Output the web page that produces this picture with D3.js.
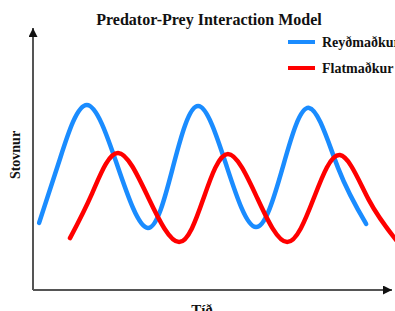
<!DOCTYPE html>
<html><head><meta charset="utf-8">
<script src="https://cdn.jsdelivr.net/npm/d3@7"></script>
<style>body{margin:0;background:#fff}svg{display:block}</style>
</head><body>
<script>
// Data (time, population)
const title = "Predator-Prey Interaction Model";
const xLabel = "Tíð";
const yLabel = "Stovnur";
const seriesNames = ["Reyðmaðkur", "Flatmaðkur"];
const preyT   = [0.17, 0.75, 1.50, 2.35, 3.20, 3.90, 4.60, 5.40, 6.21, 6.95, 7.69, 8.50, 9.28];
const preyV   = [2.56, 5.00, 7.06, 4.75, 2.37, 4.70, 7.02, 4.70, 2.40, 4.65, 6.95, 4.65, 2.52];
const predT   = [1.03, 1.65, 2.37, 3.22, 4.07, 4.75, 5.43, 6.25, 7.08, 7.82, 8.55, 9.35, 10.15];
const predV   = [1.98, 3.70, 5.23, 3.50, 1.83, 3.50, 5.19, 3.50, 1.83, 3.50, 5.15, 3.45, 1.85];
const colors = ["#1a8cff", "#ff0000"];

const W = 395, H = 311;
const svg = d3.select("body").append("svg").attr("width", W).attr("height", H);
const x = d3.scaleLinear().domain([0, 10]).range([33, 392]);
const y = d3.scaleLinear().domain([0, 10]).range([290, 28]);

const defs = svg.append("defs");
defs.append("marker").attr("id", "arr").attr("viewBox", "0 0 10 10")
  .attr("refX", 10).attr("refY", 5).attr("markerWidth", 13).attr("markerHeight", 9)
  .attr("markerUnits", "userSpaceOnUse").attr("orient", "auto")
  .append("path").attr("d", "M0,0L10,5L0,10Z").attr("fill", "#111");

// axes
svg.append("line").attr("x1", x(0)).attr("y1", y(0)).attr("x2", x(0)).attr("y2", y(10) )
  .attr("stroke", "#555").attr("stroke-width", 2).attr("marker-end", "url(#arr)");
svg.append("line").attr("x1", x(0)).attr("y1", y(0)).attr("x2", x(10)).attr("y2", y(0))
  .attr("stroke", "#555").attr("stroke-width", 2).attr("marker-end", "url(#arr)");

const line = d3.line().x(d => x(d[0])).y(d => y(d[1])).curve(d3.curveNatural);
const data = [d3.zip(preyT, preyV), d3.zip(predT, predV)];
data.forEach((d, i) => {
  svg.append("path").datum(d).attr("d", line).attr("fill", "none")
    .attr("stroke", colors[i]).attr("stroke-width", 4.5).attr("stroke-linecap", "round");
});

const serif = "'Liberation Serif','Times New Roman',serif";
svg.append("text").attr("x", 209).attr("y", 25).attr("text-anchor", "middle")
  .attr("font-family", serif).attr("font-weight", "bold").attr("font-size", 16).attr("fill", "#111").text(title);
svg.append("text").attr("x", 202).attr("y", 315).attr("text-anchor", "middle")
  .attr("font-family", serif).attr("font-weight", "bold").attr("font-size", 15).attr("fill", "#111").text(xLabel);
svg.append("text").attr("transform", "translate(20,155) rotate(-90)").attr("text-anchor", "middle")
  .attr("font-family", serif).attr("font-weight", "bold").attr("font-size", 14).attr("fill", "#111").text(yLabel);

// legend
seriesNames.forEach((n, i) => {
  const ly = 42 + i * 26;
  svg.append("line").attr("x1", 288).attr("x2", 315).attr("y1", ly).attr("y2", ly)
    .attr("stroke", colors[i]).attr("stroke-width", 4);
  svg.append("text").attr("x", 322).attr("y", ly + 5).attr("font-family", serif)
    .attr("font-weight", "bold").attr("font-size", 14).attr("fill", "#111").text(n);
});
</script>
</body></html>
